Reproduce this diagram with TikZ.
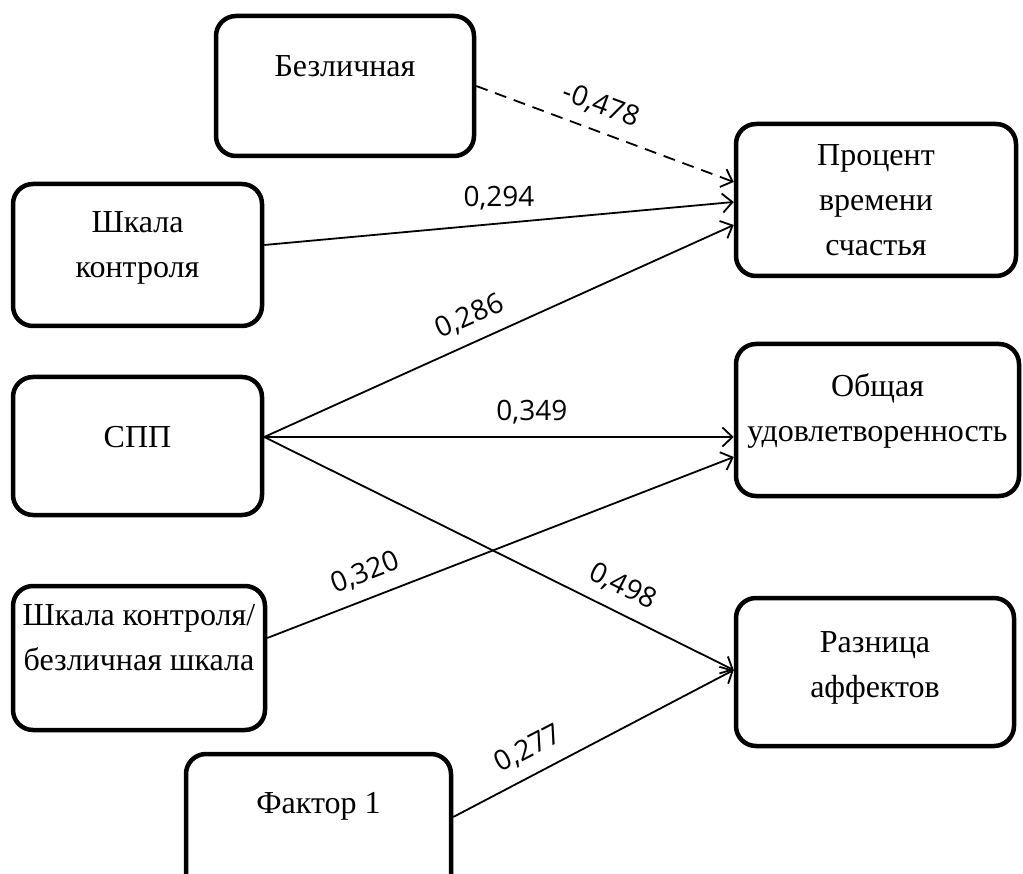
\documentclass[tikz,border=0pt]{standalone}
\usepackage{fontspec}
\setmainfont{Liberation Serif}
\newfontfamily\cifry{Open Sans}
\usetikzlibrary{arrows.meta}

\tikzset{
  blok/.style={draw, line width=4.5pt, rounded corners=20pt, inner sep=0pt},
  tekst/.style={align=center, font=\fontsize{32}{45}\selectfont},
  svyaz/.style={line width=1.8pt, -{Straight Barb[length=10pt,width=19pt,line width=1.8pt]}},
  koef/.style={font=\cifry\fontsize{28}{30}\selectfont, above=9pt},
}

\begin{document}
\begin{tikzpicture}[x=1pt, y=-1pt]
  \useasboundingbox (0,0) rectangle (1023,874);

  % boxes on the left
  \node[blok, minimum width=258pt, minimum height=140pt] (bez) at (345,86) {};
  \node[blok, minimum width=249pt, minimum height=142pt] (shk) at (137.5,255) {};
  \node[blok, minimum width=249pt, minimum height=138pt] (spp) at (137.5,446) {};
  \node[blok, minimum width=252pt, minimum height=144pt] (shkb) at (139,658) {};
  \node[blok, minimum width=265pt, minimum height=150pt] (fak) at (318.5,829) {};

  % boxes on the right
  \node[blok, minimum width=280pt, minimum height=152pt] (proc) at (876,200) {};
  \node[blok, minimum width=283pt, minimum height=152pt] (obsh) at (877.5,420) {};
  \node[blok, minimum width=278pt, minimum height=148pt] (raz) at (875,672) {};

  % texts
  \node[tekst] (bez-t) at ([yshift=20pt]bez.center) {Безличная};
  \node[tekst] (shk-t) at ([yshift=7pt]shk.center) {Шкала\\контроля};
  \node[tekst] (spp-t) at ([yshift=9pt]spp.center) {СПП};
  \node[tekst] (shkb-t) at ([yshift=20pt]shkb.center) {Шкала контроля/\\безличная шкала};
  \node[tekst] (fak-t) at ([yshift=23pt]fak.center) {Фактор 1};
  \node[tekst] (proc-t) at (proc.center) {Процент\\времени\\счастья};
  \node[tekst] (obsh-t) at ([yshift=9pt]obsh.center) {Общая\\удовлетворенность};
  \node[tekst] (raz-t) at ([yshift=4pt]raz.center) {Разница\\аффектов};

  % paths
  \draw[svyaz, dash pattern=on 12pt off 8pt] (bez.east) -- ([yshift=18pt]proc.west)
    node[koef, pos=0.45, sloped] {-0,478};
  \draw[svyaz] ([yshift=10pt]shk.east) -- ([yshift=-2pt]proc.west)
    node[koef, pos=0.5] {0,294};
  \draw[svyaz] ([yshift=9pt]spp.east) -- ([yshift=-25pt]proc.west)
    node[koef, pos=0.46, sloped] {0,286};
  \draw[svyaz] ([yshift=9pt]spp.east) -- ([yshift=-17pt]obsh.west)
    node[koef, pos=0.57] {0,349};
  \draw[svyaz] ([yshift=20pt]shkb.east) -- ([yshift=-37pt]obsh.west)
    node[koef, pos=0.23, sloped] {0,320};
  \draw[svyaz] ([yshift=9pt]spp.east) -- ([yshift=2pt]raz.west)
    node[koef, pos=0.74, sloped] {0,498};
  \draw[svyaz] ([yshift=12pt]fak.east) -- ([yshift=2pt]raz.west)
    node[koef, pos=0.31, sloped] {0,277};
\end{tikzpicture}
\end{document}
